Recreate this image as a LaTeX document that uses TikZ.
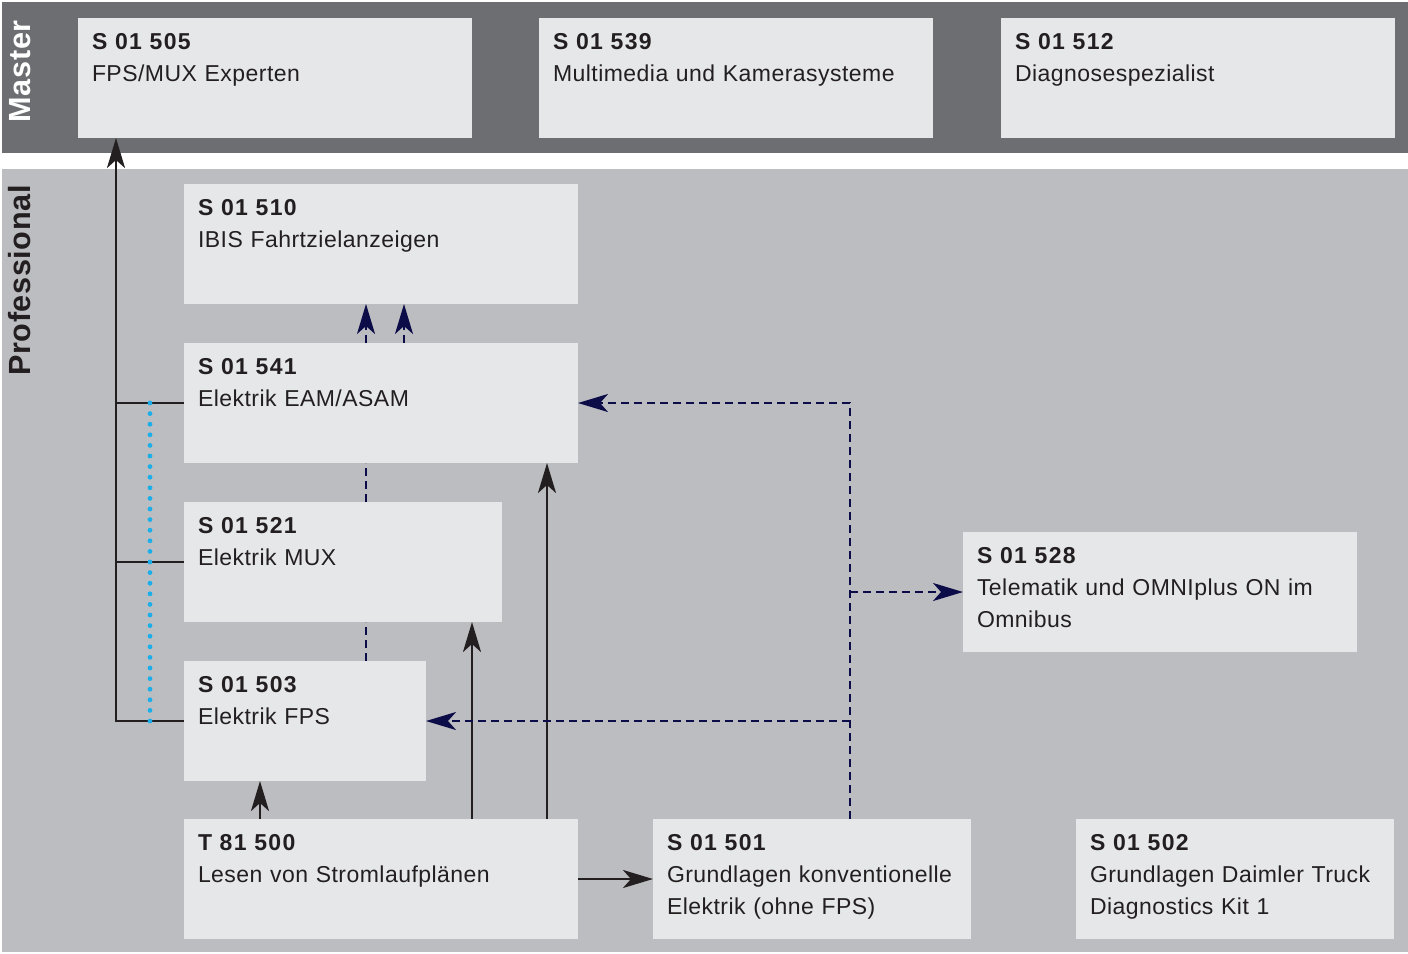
\documentclass[tikz,border=0pt]{standalone}
\usepackage{fontspec}
\setmainfont[LetterSpace=2]{Liberation Sans}
\newfontfamily\codefont[LetterSpace=6]{Liberation Sans}
\usetikzlibrary{arrows.meta}

\definecolor{masterbg}{HTML}{6D6E71}
\definecolor{profbg}{HTML}{BCBDC0}
\definecolor{boxfill}{HTML}{E6E7E9}
\definecolor{ink}{HTML}{231F20}
\definecolor{navy}{HTML}{0C0C48}
\definecolor{cyanline}{HTML}{1AAEEB}

\newcommand{\code}[1]{{\codefont\bfseries #1}}

\begin{document}
\begin{tikzpicture}[x=0.5pt, y=-0.5pt,
    course/.style={fill=boxfill, anchor=north west, text width=#1, align=left,
      inner xsep=7pt, inner ysep=0pt, outer sep=0pt, text height=15.5pt, text depth=44.5pt,
      font=\fontsize{11.5}{16}\selectfont, text=ink},
    course/.default=183pt,
    band/.style={rotate=90, anchor=base east, inner sep=0pt, font=\fontsize{15.3}{18}\selectfont\bfseries},
    prereq/.style={-{Stealth[length=15pt, width=9pt, inset=4pt]}, draw=ink, line width=1.3pt},
    link/.style={draw=ink, line width=1.3pt},
    optional/.style={-{Stealth[length=15pt, width=9pt, inset=4pt]}, draw=navy, line width=1.2pt, dash pattern=on 4pt off 2.5pt},
    parallel/.style={draw=cyanline, line width=2.4pt, line cap=round, dash pattern=on 0pt off 5.3pt}]

  \useasboundingbox (0,0) rectangle (1408,953);
  \fill[white] (0,0) rectangle (1408,953);

  % levels
  \fill[masterbg] (2,2) rectangle (1408,153);
  \fill[profbg] (2,169) rectangle (1408,952);
  \node[band, text=white] (master) at (31,20) {Master};
  \node[band, text=ink] (prof) at (31,185) {Professional};

  % Master courses
  \node[course] (s505) at (78,18) {\code{S 01 505}\\FPS/MUX Experten};
  \node[course] (s539) at (539,18) {\code{S 01 539}\\Multimedia und Kamerasysteme};
  \node[course] (s512) at (1001,18) {\code{S 01 512}\\Diagnosespezialist};

  % Professional courses
  \node[course] (s510) at (184,184) {\code{S 01 510}\\IBIS Fahrtzielanzeigen};
  \node[course] (s541) at (184,343) {\code{S 01 541}\\Elektrik EAM/ASAM};
  \node[course=145pt] (s521) at (184,502) {\code{S 01 521}\\Elektrik MUX};
  \node[course=107pt] (s503) at (184,661) {\code{S 01 503}\\Elektrik FPS};
  \node[course] (t500) at (184,819) {\code{T 81 500}\\Lesen von Stromlaufplänen};
  \node[course=145pt] (s501) at (653,819) {\code{S 01 501}\\Grundlagen konventionelle\\Elektrik (ohne FPS)};
  \node[course=145pt] (s502) at (1076,819) {\code{S 01 502}\\Grundlagen Daimler Truck\\Diagnostics Kit 1};
  \node[course] (s528) at (963,532) {\code{S 01 528}\\Telematik und OMNIplus ON im\\Omnibus};

  % path to the master level
  \draw[link] (s541.west) -- (s541.west -| 116,0);
  \draw[link] (s521.west) -- (s521.west -| 116,0);
  \draw[prereq] (s503.west) -| (s505.south -| 116,0);
  \draw[parallel] (s541.west -| 150,0) -- (s503.west -| 150,0);

  % recommended order
  \draw[optional] (s541.north -| 366,0) -- (s510.south -| 366,0);
  \draw[optional] (s541.north -| 404,0) -- (s510.south -| 404,0);
  \draw[optional, -] (s521.north -| 366,0) -- (s541.south -| 366,0);
  \draw[optional, -] (s503.north -| 366,0) -- (s521.south -| 366,0);

  % prerequisites
  \draw[prereq] (t500.north -| 260,0) -- (s503.south -| 260,0);
  \draw[prereq] (t500.north -| 472,0) -- (s521.south -| 472,0);
  \draw[prereq] (t500.north -| 547,0) -- (s541.south -| 547,0);
  \draw[prereq] (t500.east) -- (s501.west);

  % from the basics
  \draw[optional] (s501.north -| 850,0) |- (s541.east);
  \draw[optional] (s528.west -| 850,0) -- (s528.west);
  \draw[optional] (s503.east -| 850,0) -- (s503.east);
\end{tikzpicture}
\end{document}
